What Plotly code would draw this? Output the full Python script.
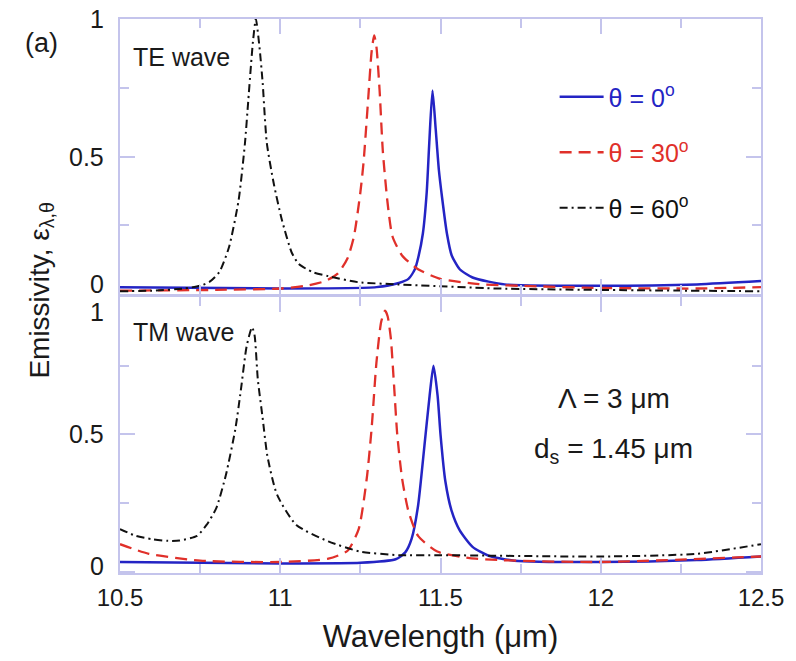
import plotly.graph_objects as go

# ---------------- data ----------------
# TE wave (top panel)
te0_x = [10.50, 11.00, 11.30, 11.37, 11.40, 11.42, 11.43, 11.445, 11.457, 11.465, 11.475,
         11.485, 11.495, 11.505, 11.52, 11.535, 11.56, 11.60, 11.65, 11.70, 12.00, 12.30, 12.50]
te0_y = [0.025, 0.02, 0.025, 0.04, 0.055, 0.09, 0.13, 0.22, 0.37, 0.55, 0.74,
         0.60, 0.45, 0.35, 0.22, 0.14, 0.09, 0.06, 0.045, 0.035, 0.03, 0.035, 0.047]

te30_x = [10.50, 10.80, 11.00, 11.08, 11.14, 11.18, 11.21, 11.23, 11.25, 11.26, 11.275, 11.285,
          11.293, 11.30, 11.31, 11.32, 11.335, 11.35, 11.38, 11.43, 11.50, 11.62, 11.80, 12.00,
          12.30, 12.50]
te30_y = [0.012, 0.015, 0.02, 0.03, 0.047, 0.075, 0.13, 0.21, 0.37, 0.48, 0.72, 0.88,
          0.94, 0.90, 0.74, 0.52, 0.33, 0.21, 0.14, 0.09, 0.055, 0.036, 0.028, 0.022,
          0.02, 0.025]

te60_x = [10.50, 10.60, 10.70, 10.75, 10.78, 10.81, 10.84, 10.87, 10.89, 10.90, 10.915, 10.924,
          10.935, 10.945, 10.958, 10.98, 11.005, 11.036, 11.057, 11.10, 11.15, 11.243, 11.367,
          11.676, 11.986, 12.50]
te60_y = [0.01, 0.012, 0.02, 0.03, 0.045, 0.08, 0.17, 0.34, 0.55, 0.70, 0.92, 1.0,
          0.90, 0.77, 0.55, 0.40, 0.27, 0.15, 0.11, 0.08, 0.065, 0.043, 0.035,
          0.02, 0.015, 0.01]

# TM wave (bottom panel)
tm0_x = [10.50, 11.00, 11.25, 11.36, 11.39, 11.41, 11.43, 11.45, 11.466, 11.478, 11.491, 11.50,
         11.515, 11.535, 11.56, 11.60, 11.65, 11.73, 12.00, 12.30, 12.50]
tm0_y = [0.035, 0.03, 0.032, 0.045, 0.07, 0.12, 0.24, 0.46, 0.64, 0.75, 0.64, 0.50,
         0.33, 0.22, 0.15, 0.09, 0.058, 0.04, 0.035, 0.042, 0.055]

tm30_x = [10.50, 10.59, 10.75, 11.00, 11.15, 11.21, 11.245, 11.27, 11.285, 11.30, 11.315, 11.327,
          11.335, 11.345, 11.355, 11.365, 11.38, 11.40, 11.43, 11.49, 11.61, 11.99, 12.50]
tm30_y = [0.10, 0.065, 0.04, 0.035, 0.047, 0.076, 0.156, 0.34, 0.52, 0.76, 0.91, 0.95,
          0.93, 0.85, 0.68, 0.50, 0.34, 0.22, 0.13, 0.073, 0.047, 0.035, 0.055]

tm60_x = [10.50, 10.55, 10.60, 10.65, 10.686, 10.74, 10.77, 10.80, 10.83, 10.86, 10.877, 10.895,
          10.912, 10.92, 10.93, 10.945, 10.96, 10.99, 11.05, 11.15, 11.25, 11.37, 11.50, 12.00,
          12.30, 12.50]
tm60_y = [0.155, 0.13, 0.118, 0.112, 0.113, 0.13, 0.17, 0.23, 0.35, 0.52, 0.66, 0.82,
          0.89, 0.86, 0.70, 0.56, 0.42, 0.28, 0.17, 0.11, 0.073, 0.06, 0.06, 0.055,
          0.065, 0.10]

series_names = ["θ = 0<sup>o</sup>", "θ = 30<sup>o</sup>", "θ = 60<sup>o</sup>"]
x_tickvals = [10.5, 11, 11.5, 12, 12.5]
x_ticktext = ["10.5", "11", "11.5", "12", "12.5"]
# y tick labels: (label, value position where label is drawn) per panel
top_ylabels = [("1", 1.0), ("0.5", 0.5), ("0", 0.035)]
bot_ylabels = [("1", 0.945), ("0.5", 0.5), ("0", 0.02)]

# ---------------- style ----------------
FONT = "Liberation Sans, Arial, sans-serif"
TXT = "#1a1a1a"
BLUE = "#2424c4"
RED = "#e0302a"
BLACK = "#111111"
AXC = "#c4c4ec"
colors = [BLUE, RED, BLACK]
dashes = ["solid", "12px,7px", "8px,4px,2px,4px"]
widths = [2.5, 2.3, 2.0]

fig = go.Figure()

top = [(te0_x, te0_y), (te30_x, te30_y), (te60_x, te60_y)]
bot = [(tm0_x, tm0_y), (tm30_x, tm30_y), (tm60_x, tm60_y)]

for i, (xs, ys) in enumerate(top):
    fig.add_trace(go.Scatter(
        x=xs, y=ys, mode="lines", xaxis="x", yaxis="y",
        name="<span style='color:%s'>%s</span>" % (colors[i], series_names[i]),
        legendgroup="g%d" % i,
        line=dict(color=colors[i], width=widths[i], dash=dashes[i], shape="spline", smoothing=0.6),
    ))
for i, (xs, ys) in enumerate(bot):
    fig.add_trace(go.Scatter(
        x=xs, y=ys, mode="lines", xaxis="x2", yaxis="y2", showlegend=False,
        legendgroup="g%d" % i,
        line=dict(color=colors[i], width=widths[i], dash=dashes[i], shape="spline", smoothing=0.6),
    ))

L, R, T, B = 120, 30, 19, 88
H = 661
plot_h = H - T - B


def py(p):
    return (H - B - p) / plot_h


def px(p):
    return (p - L) / (796 - L - R)


axis_common = dict(
    showline=True, linecolor=AXC, linewidth=1.5, mirror="ticks",
    ticks="inside", ticklen=15, tickwidth=1.5, tickcolor=AXC,
    showgrid=False, zeroline=False,
    minor=dict(ticks="inside", ticklen=9, tickwidth=1.5, tickcolor=AXC, dtick=0.25, showgrid=False),
)

fig.update_layout(
    width=796, height=661,
    margin=dict(l=L, r=R, t=T, b=B),
    paper_bgcolor="white", plot_bgcolor="white",
    font=dict(family=FONT, size=24, color=TXT),
    xaxis=dict(domain=[0, 1], range=[10.5, 12.5], anchor="y", showticklabels=False,
               tick0=10.5, dtick=0.5, **axis_common),
    yaxis=dict(domain=[py(294), 1], range=[0, 1.0], anchor="x", showticklabels=False,
               tick0=0, dtick=0.5, **axis_common),
    xaxis2=dict(domain=[0, 1], range=[10.5, 12.5], anchor="y2", tickvals=x_tickvals,
                ticktext=x_ticktext, tickfont=dict(size=24, color=TXT),
                ticklabelstandoff=2,
                title=dict(text="Wavelength (μm)", font=dict(size=31, color=TXT), standoff=16),
                **axis_common),
    yaxis2=dict(domain=[0, py(297)], range=[-0.005, 1.0], anchor="x2", showticklabels=False,
                tick0=0, dtick=0.5, **axis_common),
    legend=dict(x=px(558), y=py(74), xanchor="left", yanchor="top",
                bgcolor="rgba(0,0,0,0)", font=dict(size=25), tracegroupgap=20,
                itemwidth=44),
    showlegend=True,
)

ann = []
for lab, v in top_ylabels:
    ann.append(dict(text=lab, xref="paper", yref="y", x=0, y=v, xanchor="right",
                    yanchor="middle", xshift=-14, showarrow=False, font=dict(size=25, color=TXT)))
for lab, v in bot_ylabels:
    ann.append(dict(text=lab, xref="paper", yref="y2", x=0, y=v, xanchor="right",
                    yanchor="middle", xshift=-14, showarrow=False, font=dict(size=25, color=TXT)))


def label(text, x, y, size, angle=0):
    return dict(text=text, xref="paper", yref="paper", x=px(x), y=py(y), xanchor="center",
                yanchor="middle", textangle=angle, showarrow=False,
                font=dict(size=size, color=TXT))


ann += [
    label("Emissivity, ε<sub>λ,θ</sub>", 40, 290, 28, -90),
    label("(a)", 41, 43, 27),
    label("TE wave", 182, 57, 25),
    label("TM wave", 184, 332, 25),
    label("Λ = 3 μm", 618, 398, 28),
    label("d<sub>s</sub> = 1.45 μm", 617, 450, 28),
]
fig.update_layout(annotations=ann)

fig.write_html("out.html")
